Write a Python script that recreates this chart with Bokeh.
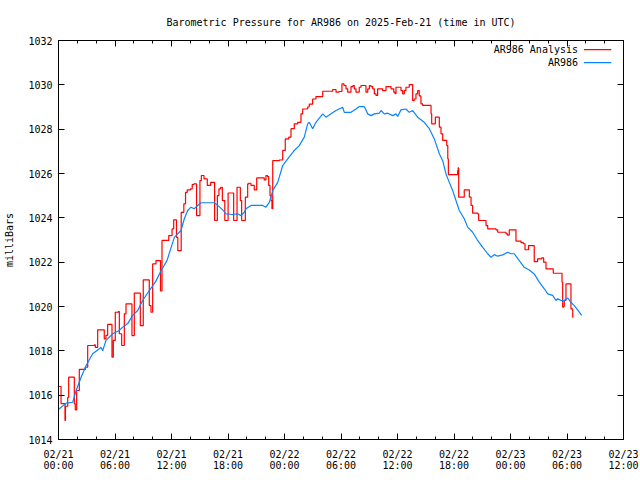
from bokeh.plotting import figure
from bokeh.models import Range1d, FixedTicker, LinearAxis, Label, BoxAnnotation
from bokeh.embed import file_html
from bokeh.resources import INLINE

# ---- data (hours since 2025-02-21 00:00 UTC, pressure in millibars) ----
analysis_hours = [
    0.05, 0.21, 0.27, 0.69, 0.74, 0.98, 1.08, 1.51, 1.68, 1.78, 1.93, 2.21, 2.74, 2.85,
    3.10, 3.80, 3.91, 4.16, 4.69, 4.86, 5.04, 5.22, 5.58, 5.68, 5.82, 6.03, 6.35, 6.46,
    6.71, 6.99, 7.17, 7.52, 7.80, 8.05, 8.58, 8.69, 9.00, 9.47, 9.64, 9.82, 10.00, 10.35,
    10.73, 10.83, 10.99, 11.36, 11.71, 12.06, 12.23, 12.42, 12.53, 12.67, 13.03, 13.31,
    13.49, 13.67, 14.02, 14.20, 14.37, 14.66, 15.02, 15.17, 15.45, 15.80, 16.16, 16.51,
    16.58, 16.87, 17.04, 17.22, 17.40, 17.66, 18.01, 18.50, 18.60, 18.96, 19.17, 19.31,
    19.45, 19.84, 20.09, 20.20, 20.44, 20.79, 21.05, 21.50, 21.85, 22.03, 22.19, 22.32,
    22.46, 22.56, 22.67, 22.75, 23.45, 23.81, 24.08, 24.45, 24.69, 25.04, 25.40, 25.75,
    25.93, 26.46, 26.63, 26.99, 27.34, 28.06, 28.94, 29.12, 29.47, 29.79, 30.10, 30.32,
    30.53, 30.71, 31.06, 31.27, 31.41, 31.59, 31.77, 31.94, 32.12, 32.47, 32.65, 32.84,
    33.01, 33.18, 33.37, 33.54, 33.72, 33.89, 34.25, 34.42, 34.78, 35.13, 35.31, 35.60,
    35.74, 35.84, 36.20, 36.37, 36.55, 36.72, 36.90, 37.25, 37.43, 37.61, 37.78, 37.96,
    38.14, 38.31, 38.49, 38.67, 39.38, 39.56, 39.63, 39.88, 40.02, 40.27, 40.44, 40.62,
    40.80, 41.08, 41.23, 41.34, 41.40, 42.21, 42.39, 42.45, 42.50, 42.74, 43.09, 43.45,
    43.63, 43.81, 43.98, 44.51, 44.62, 45.22, 45.40, 45.58, 46.46, 46.64, 47.17, 47.52,
    47.68, 47.87, 48.40, 48.58, 49.12, 49.36, 49.54, 49.75, 49.91, 50.46, 50.52, 50.70,
    50.88, 51.31, 51.52, 51.77, 52.48, 52.54, 53.36, 53.47, 53.54, 53.62, 53.71, 53.89,
    54.35, 54.42, 54.60, 54.61,
]
analysis_mbar = [
    1016.39, 1016.39, 1015.62, 1014.86, 1015.50, 1015.90, 1016.81, 1016.81, 1015.61, 1015.34,
    1016.21, 1017.16, 1017.16, 1017.26, 1018.24, 1018.27, 1018.16, 1018.95, 1018.95, 1018.54,
    1018.70, 1019.19, 1019.19, 1017.71, 1018.47, 1019.74, 1019.77, 1018.77, 1018.24, 1019.67,
    1020.12, 1020.12, 1018.69, 1020.60, 1020.60, 1019.14, 1021.20, 1021.20, 1020.04, 1019.74,
    1021.92, 1022.07, 1022.07, 1020.70, 1022.98, 1022.98, 1023.20, 1023.50, 1023.91, 1023.91,
    1023.12, 1022.52, 1024.25, 1024.63, 1025.15, 1025.26, 1025.31, 1025.50, 1025.53, 1024.10,
    1025.68, 1025.91, 1025.76, 1025.46, 1025.60, 1025.60, 1023.88, 1025.00, 1025.31, 1025.38,
    1024.78, 1023.88, 1025.12, 1025.12, 1023.88, 1025.38, 1025.38, 1024.78, 1023.88, 1024.93,
    1025.53, 1025.56, 1025.46, 1025.26, 1025.80, 1025.80, 1025.71, 1025.91, 1025.86, 1025.46,
    1025.00, 1024.78, 1024.41, 1026.58, 1026.61, 1027.04, 1027.56, 1027.64, 1028.02, 1028.24,
    1028.31, 1028.69, 1028.91, 1029.00, 1029.13, 1029.36, 1029.47, 1029.71, 1029.71, 1029.79,
    1029.67, 1029.70, 1030.04, 1029.97, 1029.82, 1029.67, 1029.92, 1029.97, 1029.82, 1029.67,
    1029.67, 1029.89, 1029.97, 1029.97, 1029.67, 1029.82, 1029.97, 1029.92, 1029.82, 1029.59,
    1029.52, 1029.82, 1029.82, 1029.74, 1029.92, 1029.92, 1029.82, 1029.67, 1029.60, 1029.89,
    1029.89, 1029.74, 1029.59, 1029.74, 1029.89, 1030.01, 1030.01, 1029.29, 1029.36, 1029.59,
    1029.74, 1029.50, 1029.14, 1029.07, 1029.07, 1028.69, 1028.24, 1028.24, 1028.54, 1028.54,
    1028.09, 1027.79, 1027.49, 1027.49, 1027.26, 1026.66, 1025.95, 1025.95, 1026.13, 1026.26,
    1024.93, 1024.93, 1025.26, 1025.26, 1024.93, 1024.56, 1024.21, 1024.18, 1023.88, 1023.88,
    1023.65, 1023.50, 1023.46, 1023.35, 1023.35, 1023.28, 1023.22, 1023.46, 1023.46, 1022.95,
    1022.88, 1022.83, 1022.56, 1022.56, 1022.75, 1022.75, 1022.02, 1022.02, 1022.15, 1022.19,
    1022.00, 1021.70, 1021.70, 1021.50, 1021.50, 1021.10, 1019.97, 1020.00, 1020.27, 1021.02,
    1021.02, 1019.89, 1019.82, 1019.49,
]

station_hours = [
    0.00, 0.80, 1.51, 1.86, 2.39, 2.92, 3.63, 4.33, 4.51, 4.69, 5.04, 5.76, 6.46, 6.82,
    7.35, 7.88, 8.41, 8.94, 9.64, 10.28, 10.88, 11.52, 12.30, 13.01, 13.36, 13.72, 14.07,
    14.42, 14.78, 15.13, 16.54, 16.91, 17.44, 17.79, 18.50, 19.03, 19.38, 19.73, 19.91,
    20.44, 20.97, 21.68, 22.03, 22.39, 22.75, 23.28, 23.81, 24.34, 25.04, 25.57, 26.10,
    26.46, 26.63, 26.99, 27.34, 28.06, 28.41, 28.94, 29.47, 30.18, 30.35, 31.06, 31.59,
    31.94, 32.47, 32.84, 33.18, 33.54, 34.07, 34.25, 34.60, 34.96, 35.49, 35.84, 36.02,
    36.37, 36.90, 37.25, 37.61, 38.14, 38.84, 39.38, 39.91, 40.27, 40.44, 40.80, 41.15,
    41.50, 41.86, 42.21, 42.56, 43.09, 43.45, 43.98, 44.51, 45.05, 45.58, 45.93, 46.28,
    46.64, 47.17, 47.70, 48.05, 48.40, 48.93, 49.46, 49.99, 50.52, 51.06, 51.59, 51.95,
    52.48, 52.83, 53.01, 53.36, 53.71, 54.07, 54.42, 54.77, 55.13, 55.56,
]
station_mbar = [
    1015.35, 1015.64, 1015.68, 1016.20, 1016.80, 1017.33, 1017.87, 1018.09, 1018.16, 1018.00,
    1018.47, 1018.77, 1018.92, 1019.07, 1019.23, 1019.60, 1019.82, 1020.27, 1020.72, 1021.10,
    1021.60, 1022.07, 1023.12, 1023.43, 1023.96, 1024.33, 1024.48, 1024.41, 1024.56, 1024.68,
    1024.68, 1024.56, 1024.36, 1024.18, 1024.15, 1024.18, 1024.10, 1024.25, 1024.41, 1024.56,
    1024.56, 1024.56, 1024.48, 1024.70, 1025.23, 1025.60, 1026.36, 1026.66, 1027.04, 1027.26,
    1027.64, 1028.24, 1028.31, 1028.02, 1028.31, 1028.69, 1028.54, 1028.69, 1028.84, 1028.99,
    1028.76, 1028.76, 1028.91, 1029.02, 1029.02, 1028.69, 1028.61, 1028.69, 1028.72, 1028.84,
    1028.69, 1028.72, 1028.61, 1028.69, 1028.57, 1028.87, 1028.91, 1028.76, 1028.84, 1028.54,
    1028.31, 1028.02, 1027.56, 1027.11, 1026.89, 1026.58, 1025.98, 1025.60, 1025.23, 1024.78,
    1024.33, 1023.96, 1023.58, 1023.35, 1022.98, 1022.67, 1022.38, 1022.22, 1022.34, 1022.27,
    1022.33, 1022.45, 1022.38, 1022.38, 1022.07, 1021.77, 1021.65, 1021.47, 1021.10, 1020.80,
    1020.57, 1020.50, 1020.27, 1020.35, 1020.27, 1020.27, 1020.39, 1020.19, 1020.04, 1019.85,
    1019.60,
]

x_tick_hours = [0, 6, 12, 18, 24, 30, 36, 42, 48, 54, 60]
x_tick_labels = ["02/21\n00:00", "02/21\n06:00", "02/21\n12:00", "02/21\n18:00",
                 "02/22\n00:00", "02/22\n06:00", "02/22\n12:00", "02/22\n18:00",
                 "02/23\n00:00", "02/23\n06:00", "02/23\n12:00"]
x_minor_hours = list(range(0, 61, 2))
y_ticks = [1014, 1016, 1018, 1020, 1022, 1024, 1026, 1028, 1030, 1032]

TITLE = "Barometric Pressure for AR986 on 2025-Feb-21 (time in UTC)"
Y_LABEL = "milliBars"
SERIES_NAMES = ["AR986 Analysis", "AR986"]
COLORS = ["#ff0000", "#0a84ff"]

FONT = "DejaVu Sans Mono"
FS = "10px"

p = figure(frame_width=565, frame_height=399,
           x_range=Range1d(0, 60), y_range=Range1d(1014, 1032),
           output_backend="svg", toolbar_location=None,
           min_border_left=58, min_border_right=17,
           min_border_top=40, min_border_bottom=41,
           background_fill_color="white", border_fill_color="white")

p.title.text = TITLE
p.title.align = "center"
p.title.text_font = FONT
p.title.text_font_size = FS
p.title.text_font_style = "normal"
p.title.text_color = "black"
p.title.standoff = 25

p.xgrid.visible = False
p.ygrid.visible = False
p.outline_line_color = "black"
p.outline_line_width = 1


def style_axis(ax, show_labels=True):
    ax.axis_line_color = "black"
    ax.major_tick_line_color = "black"
    ax.minor_tick_line_color = "black"
    ax.major_tick_in = 6
    ax.major_tick_out = 0
    ax.minor_tick_in = 3
    ax.minor_tick_out = 0
    ax.major_label_text_font = FONT
    ax.major_label_text_font_size = FS if show_labels else "0px"
    ax.major_label_text_color = "black"
    if not show_labels:
        ax.major_label_standoff = 0


xticker = FixedTicker(ticks=x_tick_hours, minor_ticks=x_minor_hours)
yticker = FixedTicker(ticks=y_ticks, minor_ticks=[])

xa = p.xaxis[0]
xa.ticker = xticker
xa.major_label_overrides = {h: lab for h, lab in zip(x_tick_hours, x_tick_labels)}
style_axis(xa)
xa.major_label_standoff = 9
xa.major_label_text_line_height = 1.0

ya = p.yaxis[0]
ya.ticker = yticker
style_axis(ya)
ya.major_label_standoff = 6
ya.axis_label = Y_LABEL
ya.axis_label_text_font = FONT
ya.axis_label_text_font_size = FS
ya.axis_label_text_font_style = "normal"
ya.axis_label_text_color = "black"
ya.axis_label_standoff = 10

top_ax = LinearAxis(ticker=xticker)
style_axis(top_ax, show_labels=False)
top_ax.major_label_overrides = {h: "" for h in x_tick_hours}
p.add_layout(top_ax, "above")

right_ax = LinearAxis(ticker=yticker)
style_axis(right_ax, show_labels=False)
right_ax.major_label_overrides = {t: "" for t in y_ticks}
p.add_layout(right_ax, "right")

p.step(analysis_hours, analysis_mbar, mode="after", line_color=COLORS[0], line_width=1.2)
p.line(station_hours, station_mbar, line_color=COLORS[1], line_width=1.2)

# legend in gnuplot style: text on the left, line sample on the right (data-space placement)
legend_text_x = 55.17
legend_line_x = (55.8, 58.7)
legend_rows_y = [1031.59, 1031.0]
for name, col, ly in zip(SERIES_NAMES, COLORS, legend_rows_y):
    p.add_layout(Label(x=legend_text_x, y=ly, text=name,
                       text_align="right", text_baseline="middle",
                       text_font=FONT, text_font_size=FS, text_color="black"))
    p.add_layout(BoxAnnotation(left=legend_line_x[0], right=legend_line_x[1],
                               bottom=ly - 0.03, top=ly + 0.03,
                               fill_color=col, fill_alpha=1, line_color=None))

open("out.html", "w").write(file_html(p, INLINE))
